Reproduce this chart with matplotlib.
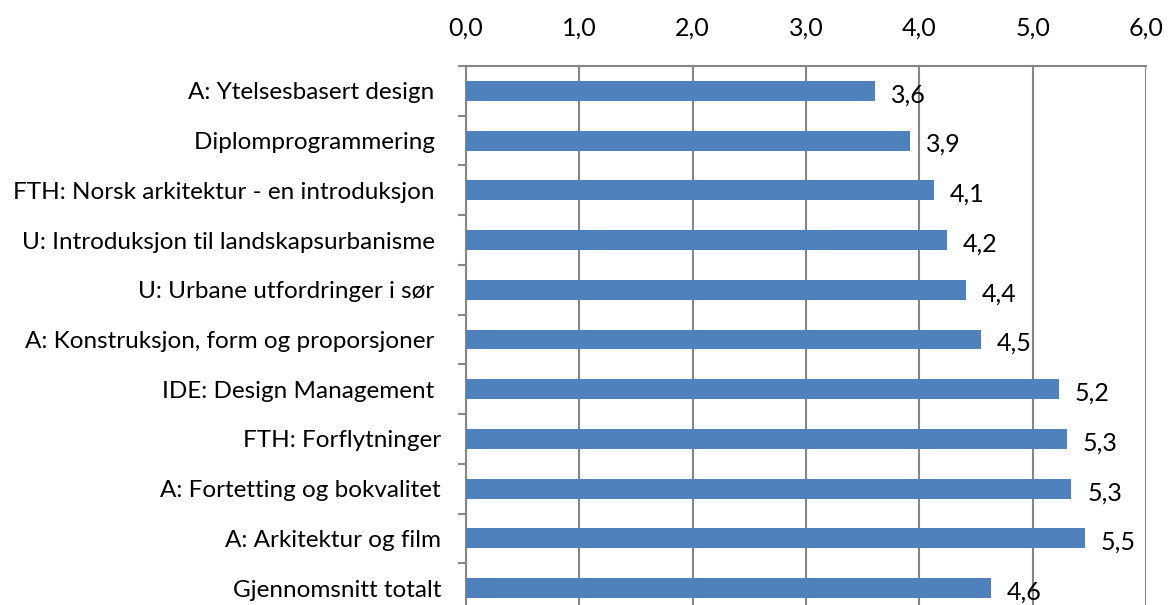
import matplotlib.pyplot as plt
import numpy as np

plt.rcParams['font.family'] = ['Lato', 'DejaVu Sans']

courses = [
    'A: Ytelsesbasert design ',
    'Diplomprogrammering ',
    'FTH: Norsk arkitektur - en introduksjon ',
    'U: Introduksjon til landskapsurbanisme ',
    'U: Urbane utfordringer i sør ',
    'A: Konstruksjon, form og proporsjoner ',
    'IDE: Design Management ',
    'FTH: Forflytninger',
    'A: Fortetting og bokvalitet',
    'A: Arkitektur og film',
    'Gjennomsnitt totalt',
]
scores = [3.61, 3.92, 4.13, 4.24, 4.41, 4.54, 5.23, 5.30, 5.34, 5.46, 4.63]
xticks = [0, 1, 2, 3, 4, 5, 6]

fig = plt.figure(figsize=(11.71, 6.05), dpi=100)
ax = fig.add_axes([466 / 1171, -8 / 605, 680 / 1171, (613 - 66) / 605])

y = np.arange(len(courses))
ax.barh(y, scores, height=0.4, color='#4f81bd', zorder=3)
for yi, v in zip(y, scores):
    ax.text(v + 0.14, yi + 0.08, f'{v:.1f}'.replace('.', ','), va='center',
            ha='left', fontsize=18)

ax.set_xlim(0, 6)
ax.set_ylim(len(courses) - 0.5, -0.5)
ax.set_xticks(xticks)
ax.set_xticklabels([f'{t:.1f}'.replace('.', ',') for t in xticks], fontsize=18)
ax.xaxis.tick_top()
ax.tick_params(axis='x', length=0, pad=19)

ax.set_yticks(y)
ax.set_yticklabels(courses, fontsize=17.5)
ax.tick_params(axis='y', length=0, pad=18)
ax.set_yticks(np.arange(len(courses) + 1) - 0.5, minor=True)
ax.tick_params(axis='y', which='minor', length=6, color='#868686', width=1.5)

ax.grid(axis='x', color='#868686', linewidth=1.5, zorder=0)
for side in ['right', 'bottom']:
    ax.spines[side].set_visible(False)
for side in ['top', 'left']:
    ax.spines[side].set_color('#868686')
    ax.spines[side].set_linewidth(1.5)

fig.savefig('out.png')
